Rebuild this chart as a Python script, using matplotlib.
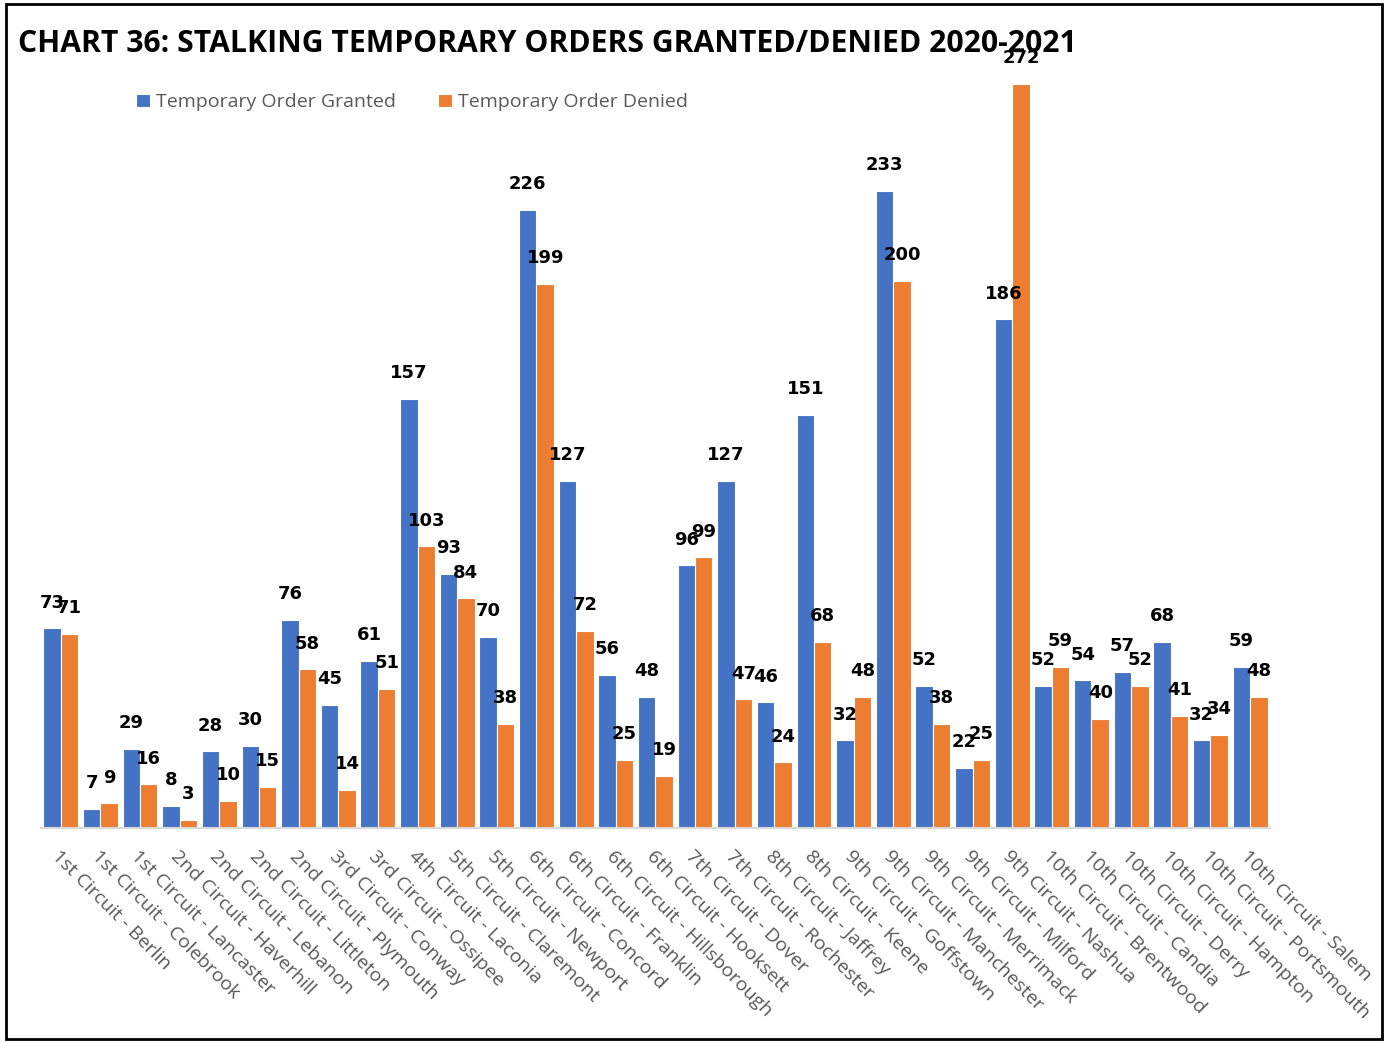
import matplotlib.pyplot as plt
import numpy as np
from matplotlib.patches import Rectangle

courts = ["1st Circuit - Berlin", "1st Circuit - Colebrook", "1st Circuit - Lancaster",
          "2nd Circuit - Haverhill", "2nd Circuit - Lebanon", "2nd Circuit - Littleton",
          "2nd Circuit - Plymouth", "3rd Circuit - Conway", "3rd Circuit - Ossipee",
          "4th Circuit - Laconia", "5th Circuit - Claremont", "5th Circuit - Newport",
          "6th Circuit - Concord", "6th Circuit - Franklin", "6th Circuit - Hillsborough",
          "6th Circuit - Hooksett", "7th Circuit - Dover", "7th Circuit - Rochester",
          "8th Circuit - Jaffrey", "8th Circuit - Keene", "9th Circuit - Goffstown",
          "9th Circuit - Manchester", "9th Circuit - Merrimack", "9th Circuit - Milford",
          "9th Circuit - Nashua", "10th Circuit - Brentwood", "10th Circuit - Candia",
          "10th Circuit - Derry", "10th Circuit - Hampton", "10th Circuit - Portsmouth",
          "10th Circuit - Salem"]
granted = [73, 7, 29, 8, 28, 30, 76, 45, 61, 157, 93, 70, 226, 127, 56, 48,
           96, 127, 46, 151, 32, 233, 52, 22, 186, 52, 54, 57, 68, 32, 59]
denied = [71, 9, 16, 3, 10, 15, 58, 14, 51, 103, 84, 38, 199, 72, 25, 19,
          99, 47, 24, 68, 48, 200, 38, 25, 272, 59, 40, 52, 41, 34, 48]

blue = "#4472C4"
orange = "#ED7D31"
grey = "#595959"

fig = plt.figure(figsize=(13.88, 10.43), dpi=100)
ax = fig.add_axes([0.0295, 0.2061, 0.8854, 0.7344])

x = np.arange(len(courts))
w = 0.44
b1 = ax.bar(x - w / 2, granted, w, color=blue, edgecolor="white", linewidth=0.8,
            label="Temporary Order Granted")
b2 = ax.bar(x + w / 2, denied, w, color=orange, edgecolor="white", linewidth=0.8,
            label="Temporary Order Denied")

# value labels above every bar
for bars in (b1, b2):
    for r in bars:
        ax.annotate(str(int(r.get_height())), (r.get_x() + r.get_width() / 2, r.get_height()),
                    xytext=(0, 12), textcoords="offset points", ha="center", va="bottom",
                    fontsize=13, fontweight="bold", color="black", family="DejaVu Sans")

ax.set_xlim(-0.5, len(courts) - 0.5)
ax.set_ylim(0, 280)
ax.set_yticks([])
for s in ("top", "right", "left"):
    ax.spines[s].set_visible(False)
ax.spines["bottom"].set_color("#D9D9D9")
ax.spines["bottom"].set_linewidth(1.5)

ax.set_xticks(x)
ax.set_xticklabels(courts, rotation=-45, ha="left", va="top", rotation_mode="anchor",
                   fontsize=14, color=grey, family="Open Sans")
ax.tick_params(axis="x", length=0, pad=14)

fig.text(0.013, 0.958, "CHART 36: STALKING TEMPORARY ORDERS GRANTED/DENIED 2020-2021",
         fontsize=21.7, fontweight="bold", family="Open Sans", va="center", ha="left")

fig.legend(loc="center left", bbox_to_anchor=(0.0855, 0.902), ncol=2, frameon=False,
           labelcolor=grey, handlelength=0.7, handleheight=0.7,
           handletextpad=0.3, columnspacing=2.2, prop={"family": "Open Sans", "size": 14})

fig.patches.append(Rectangle((0.004, 0.004), 0.992, 0.992, transform=fig.transFigure,
                             fill=False, edgecolor="black", linewidth=2))

fig.savefig("out.png", dpi=100)
